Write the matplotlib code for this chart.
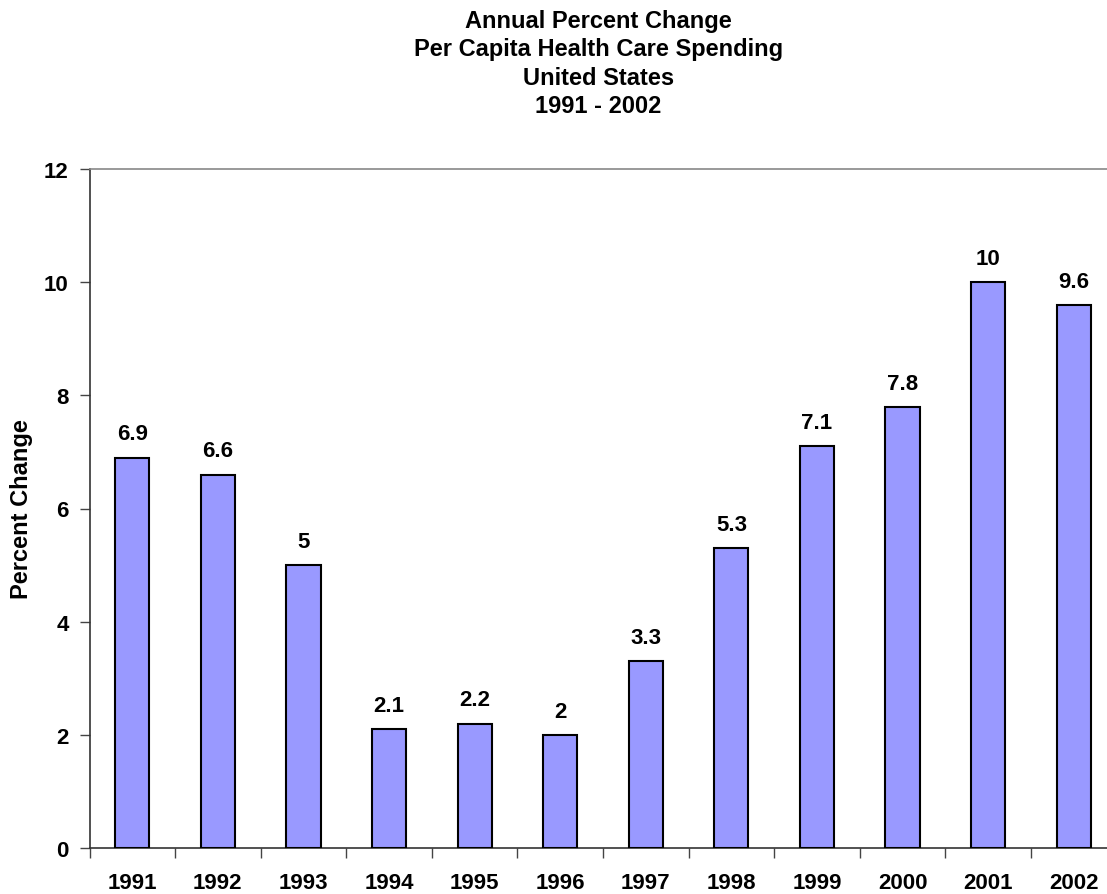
import matplotlib
matplotlib.use("Agg")
import matplotlib.pyplot as plt

plt.rcParams['font.family'] = ['Liberation Sans', 'DejaVu Sans']

years = ['1991', '1992', '1993', '1994', '1995', '1996', '1997', '1998', '1999', '2000', '2001', '2002']
values = [6.9, 6.6, 5, 2.1, 2.2, 2, 3.3, 5.3, 7.1, 7.8, 10, 9.6]
value_labels = ['6.9', '6.6', '5', '2.1', '2.2', '2', '3.3', '5.3', '7.1', '7.8', '10', '9.6']
yticks = [0, 2, 4, 6, 8, 10, 12]

fig = plt.figure(figsize=(11.07, 8.95), dpi=100)
ax = fig.add_axes([89.5/1107, 46/895, 1027/1107, 679/895])

x = list(range(len(years)))
ax.bar(x, values, width=0.4, color='#9999FF', edgecolor='black', linewidth=1.5, zorder=3)

for xi, v, lab in zip(x, values, value_labels):
    ax.annotate(lab, (xi, v), xytext=(0, 17), textcoords='offset points',
                ha='center', va='center', fontsize=16, fontweight='bold')

ax.set_xlim(-0.5, len(years) - 0.5)
ax.set_ylim(0, 12)
ax.set_yticks(yticks)
ax.set_yticklabels([str(t) for t in yticks], fontsize=16, fontweight='bold')

ax.set_xticks([i + 0.5 for i in range(-1, len(years))], minor=False)
ax.set_xticklabels([''] * (len(years) + 1))
ax.set_xticks(x, minor=True)
ax.set_xticklabels(years, minor=True, fontsize=16, fontweight='bold')
ax.tick_params(axis='x', which='major', length=7, width=1, color='#444444', direction='out')
ax.tick_params(axis='x', which='minor', length=0, pad=17)
ax.tick_params(axis='y', length=7, width=1, color='#444444', pad=8)

ax.spines['left'].set_color('#333333')
ax.spines['bottom'].set_color('#333333')
ax.spines['top'].set_color('#888888')
ax.spines['right'].set_visible(False)
for s in ['left', 'bottom', 'top']:
    ax.spines[s].set_linewidth(1.2)

ax.set_ylabel('Percent Change', fontsize=17, fontweight='bold')
ax.yaxis.set_label_coords((22 - 89.5) / 1027, 0.5)
ax.yaxis.label.set_verticalalignment('center')

fig.text(598.5/1107, 1 - 64/895, 'Annual Percent Change\nPer Capita Health Care Spending\nUnited States\n1991 - 2002',
         ha='center', va='center', fontsize=17, fontweight='bold', linespacing=1.28)

fig.savefig('out.png', dpi=100)
